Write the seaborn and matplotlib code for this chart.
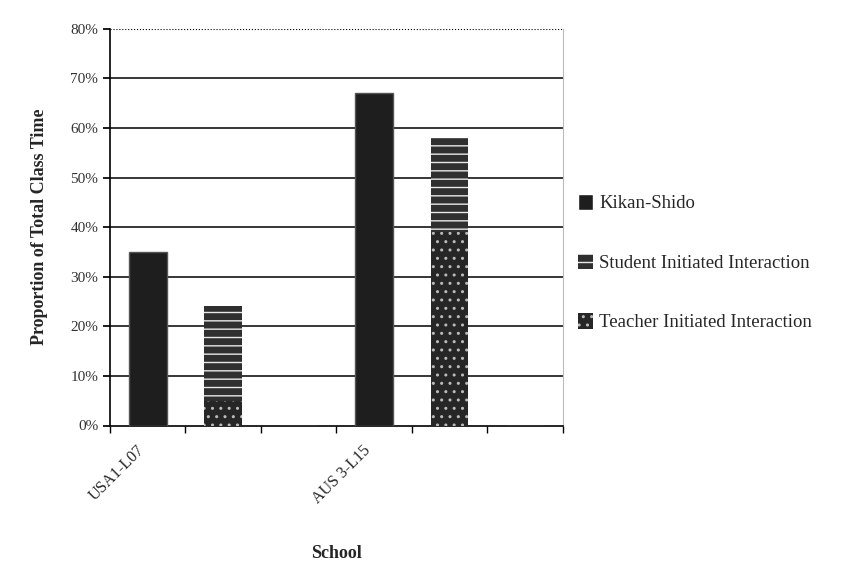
import pandas as pd
import matplotlib
matplotlib.use("Agg")
import matplotlib.pyplot as plt
import seaborn as sns
from matplotlib.patches import Patch
from matplotlib.ticker import PercentFormatter

# chart data
slots = ["USA1-L07", "b1", "b2", "AUS 3-L15", "b3", "b4"]
tick_labels = ["USA1-L07", "", "", "AUS 3-L15", "", ""]
kikan = [35, 0, 0, 67, 0, 0]
teacher = [0, 5, 0, 0, 39, 0]
student = [0, 19, 0, 0, 19, 0]

sns.set_theme(style="white")
plt.rcParams["font.family"] = ["Liberation Serif", "DejaVu Serif"]
plt.rcParams["hatch.linewidth"] = 1.0

df = pd.DataFrame({"slot": slots, "kikan": kikan,
                   "teacher": teacher, "student": student})
df["total"] = df["teacher"] + df["student"]

fig = plt.figure(figsize=(8.46, 5.75), dpi=100)
ax = fig.add_axes([0.13, 0.26, 0.535, 0.69])

# horizontal grid
for v in range(10, 90, 10):
    ax.axhline(v, color="black", lw=1.1 if v < 80 else 0.8,
               ls="-" if v < 80 else ":", zorder=0)

# Kikan-Shido
sns.barplot(data=df, x="slot", y="kikan", order=slots, color="#1e1e1e",
            width=0.5, saturation=1, edgecolor="#555555", linewidth=1,
            ax=ax, zorder=3)

# student (drawn as total), teacher on top of it
sns.barplot(data=df, x="slot", y="total", order=slots, color="#2f2f2f",
            width=0.5, saturation=1, hatch="--", edgecolor="#e8e8e8",
            linewidth=0, ax=ax, zorder=3)
sns.barplot(data=df, x="slot", y="teacher", order=slots, color="#262626",
            width=0.5, saturation=1, hatch="..", edgecolor="#bbbbbb",
            linewidth=0, ax=ax, zorder=4)

ax.set_ylim(0, 80)
ax.set_xlim(-0.5, 5.5)
ax.yaxis.set_major_formatter(PercentFormatter(decimals=0))
ax.set_yticks(range(0, 90, 10))
ax.set_xticks([i - 0.5 for i in range(7)], minor=True)
ax.set_xticks(range(6))
ax.set_xticklabels(tick_labels, rotation=45, ha="right", fontsize=11.5)
ax.tick_params(axis="x", which="major", length=0, pad=12)
ax.tick_params(axis="x", which="minor", direction="out", length=5,
               color="black", bottom=True)
ax.tick_params(axis="y", direction="out", length=5, color="black",
               labelsize=11, left=True, labelcolor="#333333")

for s in ["left", "bottom"]:
    ax.spines[s].set_color("black")
    ax.spines[s].set_linewidth(1.2)
ax.spines["top"].set_visible(False)
ax.spines["right"].set_color("#bbbbbb")
ax.spines["right"].set_linewidth(0.8)

ax.set_xlabel("School", fontsize=13, fontweight="bold", labelpad=28)
ax.set_ylabel("Proportion of Total Class Time", fontsize=13,
              fontweight="bold", labelpad=16)

handles = [Patch(facecolor="#1e1e1e", label="Kikan-Shido"),
           Patch(facecolor="#2f2f2f", hatch="--", edgecolor="#e8e8e8",
                 lw=0, label="Student Initiated Interaction"),
           Patch(facecolor="#262626", hatch="..", edgecolor="#bbbbbb",
                 lw=0, label="Teacher Initiated Interaction")]
ax.legend(handles=handles, loc="center left", bbox_to_anchor=(1.01, 0.41),
          frameon=False, fontsize=13.5, labelspacing=2.2, handlelength=0.8,
          handleheight=0.9, handletextpad=0.3, borderaxespad=0.2)

fig.savefig("out.png", dpi=100)
